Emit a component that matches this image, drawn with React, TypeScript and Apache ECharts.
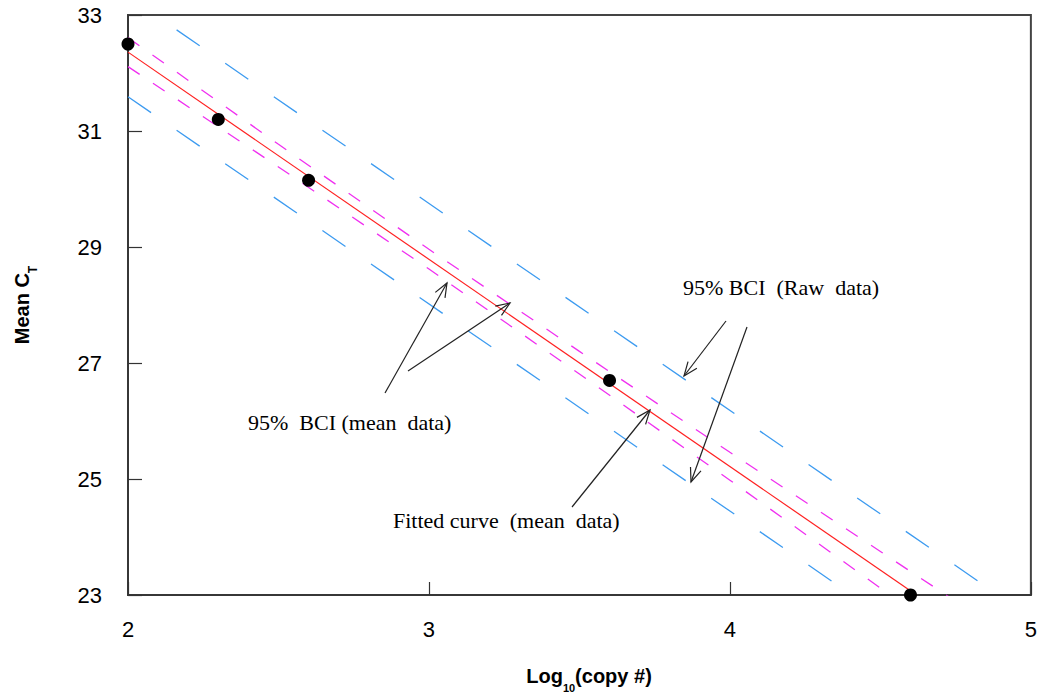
import React, { useEffect, useRef } from "react";
import * as echarts from "echarts";

// Observed means (log10 copy #, mean Ct)
const pointX = [2.0, 2.3, 2.6, 3.6, 4.6];
const pointY = [32.5, 31.2, 30.15, 26.7, 23.0];

// Fitted line (mean data)
const fitX = [2.0, 4.62];
const fitY = [32.36, 23.0];

// 95% BCI (mean data) – read at several x positions
const bciMeanX = [2.0, 2.5, 3.0, 3.5, 4.0, 4.5, 4.8];
const bciMeanUpper = [32.61, 30.77, 28.96, 27.2, 25.46, 23.75, 22.72];
const bciMeanLower = [32.11, 30.38, 28.62, 26.81, 24.98, 23.12, 22.0];

// 95% BCI (raw data)
const bciRawX = [2.0, 4.9];
const bciRawUpper = [33.32, 22.97];
const bciRawLowerX = [2.0, 4.45];
const bciRawLower = [31.59, 22.84];

// Axis ticks
const xTicks = [2, 3, 4, 5];
const yTicks = [23, 25, 27, 29, 31, 33];

const zip = (xs: number[], ys: number[]) => xs.map((x, i) => [x, ys[i]]);

function arrow(x1: number, y1: number, x2: number, y2: number) {
  const a = Math.atan2(y2 - y1, x2 - x1);
  const L = 15;
  const t = 0.38;
  const p1 = [x2 - L * Math.cos(a - t), y2 - L * Math.sin(a - t)];
  const p2 = [x2 - L * Math.cos(a + t), y2 - L * Math.sin(a + t)];
  const stroke = { stroke: "#222", lineWidth: 1.2, fill: null as any };
  return [
    { type: "line", shape: { x1, y1, x2, y2 }, style: stroke, z: 100 },
    { type: "polyline", shape: { points: [p1, [x2, y2], p2] }, style: stroke, z: 100 },
  ];
}

export default function App() {
  const ref = useRef<HTMLDivElement>(null);
  useEffect(() => {
    if (!ref.current) return;
    const chart = echarts.init(ref.current, undefined, { renderer: "svg" });
    const serifFont = "Liberation Serif";
    const annText = (text: string, x: number, y: number) => ({
      type: "text",
      x,
      y,
      style: {
        text,
        fontFamily: serifFont,
        fontSize: 22,
        fill: "#000",
        align: "left",
        verticalAlign: "middle",
      },
      z: 100,
    });
    chart.setOption({
      animation: false,
      backgroundColor: "#fff",
      grid: {
        left: 128,
        right: 5,
        top: 15,
        bottom: 99,
        show: true,
        borderColor: "#444",
        borderWidth: 2,
        backgroundColor: "#fff",
      },
      xAxis: {
        type: "value",
        min: 2,
        max: 5,
        interval: 1,
        axisLine: { lineStyle: { color: "#333", width: 1.5 } },
        axisTick: { inside: true, length: 13, lineStyle: { color: "#333", width: 1.2 }, customValues: xTicks },
        axisLabel: {
          customValues: xTicks,
          fontFamily: "Liberation Sans",
          fontSize: 22,
          color: "#000",
          margin: 23,
        },
        splitLine: { show: false },
      },
      yAxis: {
        type: "value",
        min: 23,
        max: 33,
        interval: 1,
        axisLine: { lineStyle: { color: "#333", width: 1.5 } },
        axisTick: { inside: true, length: 14, lineStyle: { color: "#333", width: 1.2 }, customValues: yTicks },
        axisLabel: {
          customValues: yTicks,
          fontFamily: "Liberation Sans",
          fontSize: 22,
          color: "#000",
          margin: 26,
          padding: [8, 0, 0, 0],
          formatter: (v: number) => String(v),
        },
        splitLine: { show: false },
      },
      series: [
        {
          name: "95% BCI (Raw data) upper",
          type: "line",
          data: zip(bciRawX, bciRawUpper),
          symbol: "none",
          lineStyle: { color: "#3d9bf0", width: 1.3, type: [28, 31] },
        },
        {
          name: "95% BCI (Raw data) lower",
          type: "line",
          data: zip(bciRawLowerX, bciRawLower),
          symbol: "none",
          lineStyle: { color: "#3d9bf0", width: 1.3, type: [28, 31] },
        },
        {
          name: "95% BCI (mean data) upper",
          type: "line",
          data: zip(bciMeanX, bciMeanUpper),
          symbol: "none",
          lineStyle: { color: "#f030f0", width: 1.3, type: [14, 16] },
        },
        {
          name: "95% BCI (mean data) lower",
          type: "line",
          data: zip(bciMeanX, bciMeanLower),
          symbol: "none",
          lineStyle: { color: "#f030f0", width: 1.3, type: [14, 16] },
        },
        {
          name: "Fitted curve",
          type: "line",
          data: zip(fitX, fitY),
          symbol: "none",
          lineStyle: { color: "#ff2020", width: 1.2 },
        },
        {
          name: "Mean data",
          type: "scatter",
          data: zip(pointX, pointY),
          symbol: "circle",
          symbolSize: 13,
          itemStyle: { color: "#000", opacity: 1 },
          clip: false,
          z: 10,
        },
      ],
      graphic: [
        annText("95%  BCI (mean  data)", 248, 422),
        annText("Fitted curve  (mean  data)", 393, 520),
        annText("95% BCI  (Raw  data)", 683, 287),
        ...arrow(385, 393, 447, 283),
        ...arrow(408, 371, 510, 303),
        ...arrow(572, 507, 650, 410),
        ...arrow(726, 321, 684, 376),
        ...arrow(747, 327, 691, 482),
        {
          type: "text",
          x: 589,
          y: 676,
          style: {
            text: "{a|Log}{b|10}{a|(copy #)}",
            align: "center",
            verticalAlign: "middle",
            rich: {
              a: { fontFamily: "Liberation Sans", fontSize: 20, fontWeight: "bold", fill: "#000", lineHeight: 20, verticalAlign: "middle" },
              b: { fontFamily: "Liberation Sans", fontSize: 11, fontWeight: "bold", fill: "#000", lineHeight: 34, verticalAlign: "bottom" },
            },
          },
          z: 100,
        },
        {
          type: "text",
          x: 22,
          y: 305,
          rotation: Math.PI / 2,
          style: {
            text: "{a|Mean C}{b|T}",
            align: "center",
            verticalAlign: "middle",
            rich: {
              a: { fontFamily: "Liberation Sans", fontSize: 20, fontWeight: "bold", fill: "#000", lineHeight: 20, verticalAlign: "middle" },
              b: { fontFamily: "Liberation Sans", fontSize: 12, fontWeight: "bold", fill: "#000", lineHeight: 34, verticalAlign: "bottom" },
            },
          },
          z: 100,
        },
      ],
    });
    return () => chart.dispose();
  }, []);
  return (
    <div
      ref={ref}
      style={{ position: "fixed", left: 0, top: 0, width: 1040, height: 694, background: "#fff" }}
    />
  );
}
